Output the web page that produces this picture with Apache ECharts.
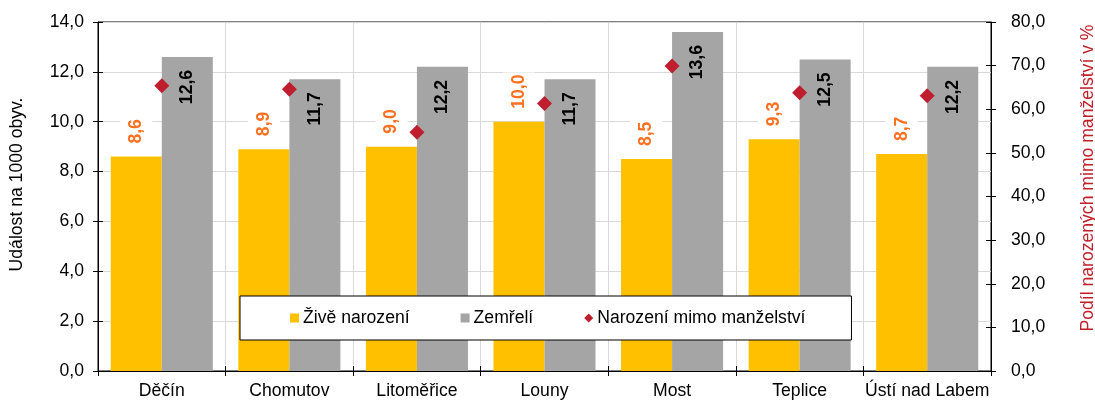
<!DOCTYPE html>
<html><head><meta charset="utf-8">
<script src="https://cdn.jsdelivr.net/npm/echarts@6/dist/echarts.min.js"></script>
<style>html,body{margin:0;padding:0;background:#fff}#c{width:1095px;height:400px}</style>
</head><body><div id="c"></div>
<script>
var categories = ['Děčín','Chomutov','Litoměřice','Louny','Most','Teplice','Ústí nad Labem'];
var liveBirths = [8.6, 8.9, 9.0, 10.0, 8.5, 9.3, 8.7];
var deaths = [12.6, 11.7, 12.2, 11.7, 13.6, 12.5, 12.2];
var outOfWedlock = [65.4, 64.6, 54.7, 61.3, 69.9, 63.8, 63.1];
var seriesNames = ['Živě narození', 'Zemřelí', 'Narození mimo manželství'];
var leftTitle = 'Událost na 1000 obyv.';
var rightTitle = 'Podíl narozených mimo manželství v %';

var FONT = '"Liberation Sans", Arial, sans-serif';
var FS = 17.6;
function fmt(v){ return Number(v).toFixed(1).replace('.', ','); }

var chart = echarts.init(document.getElementById('c'), null, {renderer:'canvas'});
var tickAxisBase = {
  axisLine:{show:false}, axisLabel:{show:false}, splitLine:{show:false},
  axisTick:{show:true, inside:true, length:5, lineStyle:{color:'#000', width:1}}
};
chart.setOption({
  animation:false,
  textStyle:{fontFamily:FONT},
  grid:{left:98, right:104, top:22, bottom:28, show:true, borderColor:'#000', borderWidth:1, backgroundColor:'transparent'},
  legend:{
    data:[{name:seriesNames[0], icon:'rect'},{name:seriesNames[1], icon:'rect'},{name:seriesNames[2], icon:'diamond'}],
    left:240, top:296, orient:'horizontal',
    itemWidth:9, itemHeight:9, itemGap:51,
    padding:[13,46,13,50],
    backgroundColor:'#fff', borderColor:'#000', borderWidth:1,
    textStyle:{fontFamily:FONT, fontSize:FS, color:'#000', padding:[0,0,0,-1]}
  },
  xAxis:[{
    type:'category', data:categories, position:'bottom',
    axisLine:{lineStyle:{color:'#000', width:1}},
    axisTick:{show:true, length:5, lineStyle:{color:'#000'}},
    axisLabel:{fontFamily:FONT, fontSize:FS, color:'#000', margin:11, interval:0},
    splitLine:{show:true, interval:0, lineStyle:{color:'#D9D9D9', width:1}}
  },{
    type:'category', data:categories, position:'bottom',
    axisLine:{show:false}, axisLabel:{show:false}, splitLine:{show:false},
    axisTick:{show:true, inside:true, length:5, interval:0, lineStyle:{color:'#000'}}
  }],
  yAxis:[{
    type:'value', min:0, max:14, interval:2, position:'left',
    axisLine:{show:true, lineStyle:{color:'#000', width:1}},
    axisTick:{show:true, length:5, lineStyle:{color:'#000'}},
    axisLabel:{fontFamily:FONT, fontSize:FS, color:'#000', margin:14, formatter:fmt},
    splitLine:{show:true, lineStyle:{color:'#D9D9D9', width:1}}
  },{
    type:'value', min:0, max:80, interval:10, position:'right',
    axisLine:{show:true, lineStyle:{color:'#000', width:1}},
    axisTick:{show:true, length:5, lineStyle:{color:'#000'}},
    axisLabel:{fontFamily:FONT, fontSize:FS, color:'#000', margin:20, formatter:fmt},
    splitLine:{show:false}
  },
  Object.assign({type:'value', min:0, max:14, interval:2, position:'left'}, tickAxisBase),
  Object.assign({type:'value', min:0, max:80, interval:10, position:'right'}, tickAxisBase)
  ],
  graphic:[
    {type:'text', x:17.5, y:184.5, rotation:Math.PI/2,
     style:{text:leftTitle, font:FS+'px '+FONT, fill:'#000', textAlign:'center', textVerticalAlign:'middle'}},
    {type:'text', x:1088, y:178, rotation:Math.PI/2,
     style:{text:rightTitle, font:FS+'px '+FONT, fill:'#C0202A', textAlign:'center', textVerticalAlign:'middle'}}
  ],
  series:[{
    name:seriesNames[0], type:'bar', data:liveBirths, xAxisIndex:0, yAxisIndex:0,
    barGap:'0%', barCategoryGap:'20%',
    itemStyle:{color:'#FFC000'},
    label:{show:true, position:'top', distance:11, rotate:90, align:'left', verticalAlign:'middle',
      fontFamily:FONT, fontSize:FS, fontWeight:'bold', color:'#FF7020',
      backgroundColor:'#fff', padding:[7,2,7,2], formatter:function(p){return fmt(p.value);}}
  },{
    name:seriesNames[1], type:'bar', data:deaths, xAxisIndex:0, yAxisIndex:0,
    barGap:'0%', barCategoryGap:'20%',
    itemStyle:{color:'#A5A5A5'},
    label:{show:true, position:'insideTop', distance:13, rotate:90, align:'right', verticalAlign:'middle',
      fontFamily:FONT, fontSize:FS, fontWeight:'bold', color:'#000', formatter:function(p){return fmt(p.value);}}
  },{
    name:seriesNames[2], type:'scatter', data:outOfWedlock, xAxisIndex:0, yAxisIndex:1,
    symbol:'diamond', symbolSize:[15,15], itemStyle:{color:'#BE1E2D', opacity:1}, z:5
  }]
});
</script></body></html>
